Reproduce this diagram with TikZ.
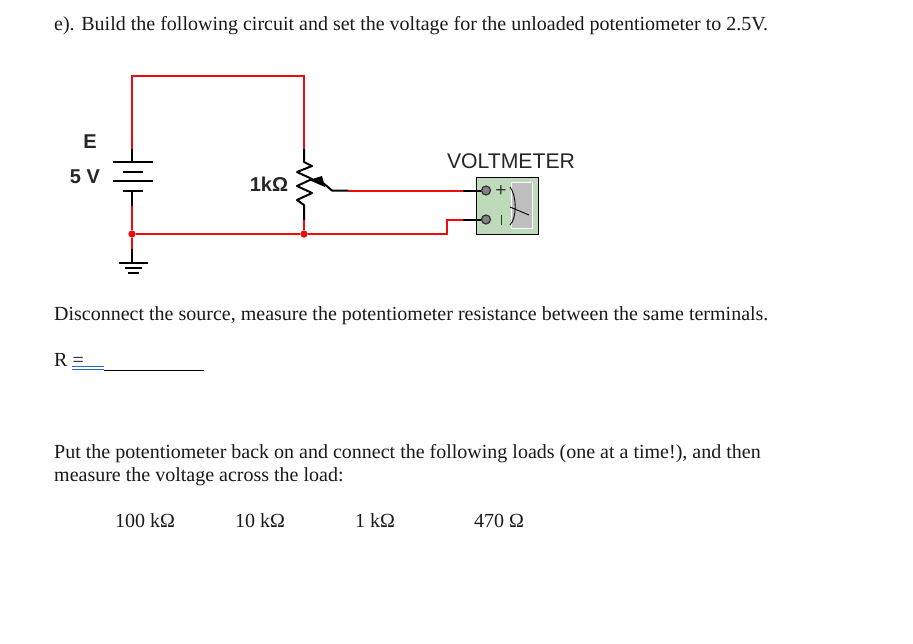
\documentclass[tikz,border=0pt]{standalone}
\usepackage{fontspec}
\setmainfont{Liberation Serif}
\newfontfamily\lblfont{Liberation Sans}
\definecolor{wirered}{RGB}{240,10,10}
\definecolor{meterg}{RGB}{190,218,186}
\definecolor{panelg}{RGB}{190,190,190}
\definecolor{termg}{RGB}{130,130,130}
\definecolor{linkblue}{RGB}{40,100,210}
\tikzset{
 txt/.style={anchor=base west,inner sep=0pt,font=\fontsize{20}{22}\selectfont,text=black!90},
 lbl/.style={inner sep=0pt,font=\lblfont\bfseries\fontsize{20}{22}\selectfont,text=black!85},
 redw/.style={draw=wirered,line width=2pt},
 blkw/.style={draw=black,line width=2pt},
 plate/.style={draw=black,line width=2pt},
 jdot/.style={circle,fill=wirered,inner sep=0pt,minimum size=7pt},
 term/.style={circle,draw=black!80,fill=termg,line width=1.2pt,inner sep=0pt,minimum size=9pt}
}
\begin{document}
\begin{tikzpicture}[x=1pt,y=-1pt]
\useasboundingbox (0,0) rectangle (913,643);
\fill[white] (0,0) rectangle (913,643);
% texts
\node[txt] (t1) at (54,30) {e). Build the following circuit and set the voltage for the unloaded potentiometer to 2.5V.};
\node[txt] (t2) at (54,320) {Disconnect the source, measure the potentiometer resistance between the same terminals.};
\node[txt] (t3) at (54,366) {R =};
\node[txt] (t4) at (54,458) {Put the potentiometer back on and connect the following loads (one at a time!), and then};
\node[txt] (t5) at (54,481) {measure the voltage across the load:};
\node[txt] (l1) at (115,527) {100 kΩ};
\node[txt] (l2) at (235,527) {10 kΩ};
\node[txt] (l3) at (355,527) {1 kΩ};
\node[txt] (l4) at (474,527) {470 Ω};
\draw[draw=linkblue,line width=1pt] (72,366) -- (104,366);
\draw[draw=linkblue,line width=1pt] (72,369.5) -- (104,369.5);
\draw[black,line width=1pt] (104,370) -- (204,370);
% labels
\node[lbl] (e) at (90,142) {E};
\node[lbl] (v) at (85,177) {5 V};
\node[lbl] (r) at (269,184) {1kΩ};
\node[inner sep=0pt,font=\lblfont\fontsize{21.2}{23}\selectfont,text=black!85] (vm) at (511,161) {VOLTMETER};
% coordinates
\coordinate (tl) at (132,76);
\coordinate (tr) at (304,76);
\coordinate (batT) at (132,149);
\coordinate (p1) at (132,162);
\coordinate (p4) at (132,190.5);
\coordinate (batB) at (132,206);
\coordinate (gT) at (132,249);
\coordinate (g0) at (132,263);
\node[jdot] (jl) at (132,234) {};
\node[jdot] (jr) at (304,234) {};
\coordinate (potT) at (304,149);
\coordinate (potB) at (304,220);
\coordinate (wE) at (348,190.5);
\coordinate (bend1) at (447,234);
\coordinate (bend2) at (447,219.5);
\coordinate (blk1) at (463,190.5);
\coordinate (blk2) at (463,219.5);
% meter
\node[draw=black,fill=meterg,line width=1pt,minimum width=62pt,minimum height=57pt,inner sep=0pt] (box) at (507,205.5) {};
\node[draw=white,fill=panelg,line width=1pt,minimum width=21pt,minimum height=46pt,inner sep=0pt] (panel) at (521.5,205) {};
\draw[black,line width=0.9pt] (510,187) .. controls (517,196) and (517,218) .. (510,225);
\draw[black,line width=0.9pt] (510,207) -- (529,215);
\node[term] (ta) at (486,190.5) {};
\node[term] (tb) at (486,219.5) {};
\node[inner sep=0pt,font=\lblfont\fontsize{19}{20}\selectfont,text=black!80] (plus) at (501,191) {+};
\draw[black!80,line width=1pt] (501,215) -- (501,225);
% wires
\draw[redw,line join=miter] (batT) -- (tl) -- (tr) -- (potT);
\draw[redw] (batB) -- (jl) -- (gT);
\draw[redw] (jl) -- (jr);
\draw[redw] (potB) -- (jr);
\draw[redw,line join=miter] (jr) -- (bend1) -- (bend2) -- (blk2);
\draw[redw] (wE) -- (blk1);
\node[jdot] at (jl) {};
\node[jdot] at (jr) {};
% battery
\draw[blkw] (batT) -- (p1);
\draw[blkw] (p4) -- (batB);
\draw[plate] (113,162) -- (153,162);
\draw[plate] (123,172) -- (143,172);
\draw[plate] (113,181) -- (153,181);
\draw[plate] (123,190.5) -- (143,190.5);
% ground
\draw[blkw] (gT) -- (g0);
\draw[plate] (119,263) -- (148,263);
\draw[plate] (125,268) -- (142,268);
\draw[plate] (128,273) -- (139,273);
% potentiometer
\draw[blkw,line join=round] (potT) -- (304,162) -- (312,166) -- (297,172) -- (312,179) -- (297,186) -- (312,193) -- (297,200) -- (304,205) -- (potB);
\draw[blkw,line join=round] (323,183) -- (332,190.5) -- (wE);
\fill[black] (309,180) -- (322,176) -- (325,187) -- cycle;
% meter leads
\draw[blkw] (blk1) -- (ta);
\draw[blkw] (blk2) -- (tb);
\end{tikzpicture}
\end{document}
